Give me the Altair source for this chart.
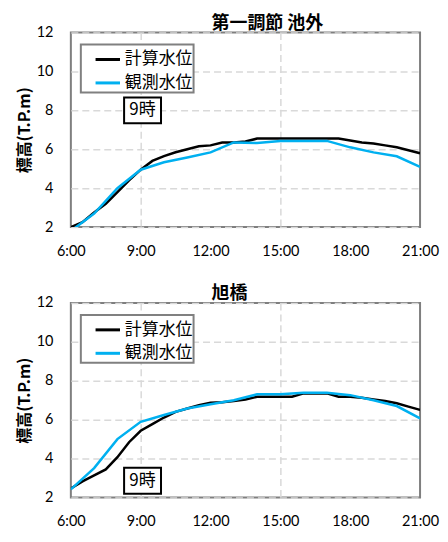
import altair as alt
import pandas as pd

# ---- data ----
series_names = ["計算水位", "観測水位"]
series_colors = ["#000000", "#00B0F0"]

time_half = [6.0, 6.5, 7.0, 7.5, 8.0, 8.5, 9.0, 9.5, 10.0, 10.5, 11.0, 11.5,
             12.0, 12.5, 13.0, 13.5, 14.0, 14.5, 15.0, 15.5, 16.0, 16.5,
             17.0, 17.5, 18.0, 18.5, 19.0, 19.5, 20.0, 20.5, 21.0]
time_hour = [6, 7, 8, 9, 10, 11, 12, 13, 14, 15, 16, 17, 18, 19, 20, 21]

# 第一調節 池外
top_title = "第一調節 池外"
top_calc = [2.0, 2.25, 2.75, 3.2, 3.8, 4.4, 4.95, 5.4, 5.65, 5.85, 6.0, 6.15,
            6.2, 6.35, 6.35, 6.4, 6.55, 6.55, 6.55, 6.55, 6.55, 6.55,
            6.55, 6.55, 6.45, 6.35, 6.3, 6.2, 6.1, 5.95, 5.8]
top_obs = [1.8, 2.7, 4.0, 4.95, 5.33, 5.58, 5.84, 6.35, 6.32, 6.43, 6.43, 6.43,
           6.1, 5.84, 5.64, 5.1]

# 旭橋
bot_title = "旭橋"
bot_calc = [2.46, 2.83, 3.14, 3.44, 4.07, 4.84, 5.43, 5.77, 6.11, 6.4, 6.57, 6.74,
            6.87, 6.9, 6.96, 7.04, 7.18, 7.18, 7.18, 7.18, 7.35, 7.35,
            7.35, 7.18, 7.18, 7.13, 7.04, 6.96, 6.84, 6.67, 6.5]
bot_obs = [2.42, 3.51, 5.0, 5.89, 6.24, 6.57, 6.79, 7.0, 7.3, 7.3, 7.38, 7.38,
           7.26, 7.0, 6.7, 6.07]

ann_label = "9時"
ann_time = 9.08
top_ann_value = 8.0
bot_ann_value = 2.86

x_ticks = [6, 9, 12, 15, 18, 21]
y_ticks = [2, 4, 6, 8, 10, 12]
y_title = "標高(T.P.m)"

CJK = "Noto Sans CJK JP"
NUM = "Lato"

X_AXIS = alt.Axis(values=x_ticks, labelExpr="datum.value + ':00'", title=None,
                  ticks=False, domain=False, labelPadding=17,
                  labelFont=NUM, labelFontSize=14.5, labelColor="#000",
                  labelFlush=False, labelOverlap=False,
                  gridColor={"condition": {"test": "datum.value == 9 || datum.value == 15",
                                           "value": "#d9d9d9"},
                             "value": "transparent"},
                  gridDash=[7, 4], gridWidth=1.5)
Y_AXIS = alt.Axis(values=y_ticks, title=y_title, ticks=False, domain=False,
                  labelPadding=18, labelFont=NUM, labelFontSize=14.5,
                  labelColor="#000", labelOverlap=False, labelFlush=False,
                  titleFont=CJK, titleFontSize=16,
                  titleFontWeight="bold", titleColor="#000", titlePadding=4,
                  gridColor="#d9d9d9", gridDash=[7, 4], gridWidth=1.5)


def panel(title, calc, obs, ann_value):
    df = pd.DataFrame({
        "time": time_half + time_hour,
        "value": calc + obs,
        "series": [series_names[0]] * len(calc) + [series_names[1]] * len(obs),
    })
    x = alt.X("time:Q", scale=alt.Scale(domain=[6, 21], nice=False, zero=False), axis=X_AXIS)
    y = alt.Y("value:Q", scale=alt.Scale(domain=[2, 12], nice=False, zero=False), axis=Y_AXIS)
    color = alt.Color("series:N", sort=series_names,
                      scale=alt.Scale(domain=series_names, range=series_colors),
                      legend=alt.Legend(title=None, orient="none", legendX=10, legendY=12,
                                        direction="vertical", symbolType="stroke",
                                        symbolSize=600, symbolStrokeWidth=3,
                                        symbolOffset=12,
                                        labelFont=CJK, labelFontSize=17, labelColor="#000",
                                        labelOffset=3, rowPadding=1.5,
                                        fillColor="white", strokeColor="#808080",
                                        padding=1))
    lines = alt.Chart(df).mark_line(strokeWidth=2.5, clip=True).encode(
        x=x, y=y, color=color, order=alt.Order("time:Q"))

    ann = pd.DataFrame({"time": [ann_time], "value": [ann_value], "label": [ann_label]})
    box = alt.Chart(ann).mark_point(
        shape="M-1,-0.7H1V0.7H-1Z", size=1369, fill="white", stroke="black",
        strokeWidth=2, opacity=1, filled=False, fillOpacity=1
    ).encode(x=x, y=y)
    txt = alt.Chart(ann).mark_text(font=CJK, fontSize=17, color="black").encode(
        x=x, y=y, text="label:N")

    return alt.layer(lines, box, txt).properties(
        width=350, height=195,
        title=alt.TitleParams(title, anchor="start", frame="group", dx=141, font=CJK,
                              fontSize=18, fontWeight="bold", color="#000", offset=-8)
    )


chart = alt.vconcat(
    panel(top_title, top_calc, top_obs, top_ann_value),
    panel(bot_title, bot_calc, bot_obs, bot_ann_value),
    spacing=25,
).resolve_scale(color="independent").resolve_legend(color="independent").properties(
    padding={"left": 7, "top": 5, "right": 0, "bottom": 0}
).configure_view(stroke="#7f7f7f", strokeWidth=2).configure_legend(strokeWidth=2)

chart.save("out.html", embed_options={"renderer": "svg", "actions": False})
